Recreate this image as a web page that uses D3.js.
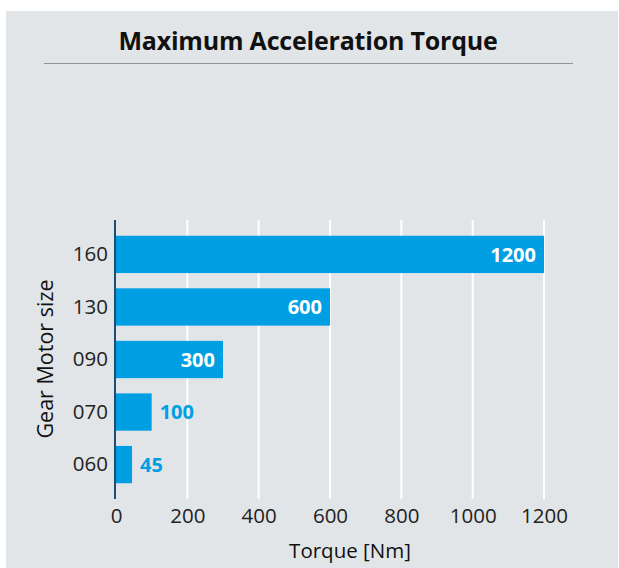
<!DOCTYPE html>
<html>
<head>
<meta charset="utf-8">
<script src="https://cdn.jsdelivr.net/npm/d3@7"></script>
<style>
  body { margin: 0; background: #ffffff; }
  svg { display: block; font-family: "Open Sans", "Noto Sans", sans-serif; }
</style>
</head>
<body>
<div class="chartContainer"></div>
<script>
const sizes = ['160', '130', '090', '070', '060'];
const torques = [1200, 600, 300, 100, 45];
const xTicks = [0, 200, 400, 600, 800, 1000, 1200];
const insideLabel = [true, true, true, false, false];

const W = 619, H = 568;
const margin = { top: 220, left: 116, right: 75, bottom: 69 };
const width = 544 - margin.left,
  height = 499 - margin.top;

const svg = d3.select(".chartContainer")
  .append("svg")
  .attr("width", W)
  .attr("height", H);

// panel
svg.append("rect")
  .attr("x", 6).attr("y", 11)
  .attr("width", 612).attr("height", H - 11)
  .attr("fill", "#e1e5e8");

// title
svg.append("text")
  .attr("x", 308).attr("y", 50)
  .attr("text-anchor", "middle")
  .style("font-size", "25px")
  .style("font-weight", "bold")
  .style("letter-spacing", "-0.2px")
  .attr("fill", "#111")
  .text("Maximum Acceleration Torque");

svg.append("line")
  .attr("x1", 44).attr("x2", 573)
  .attr("y1", 63.5).attr("y2", 63.5)
  .attr("stroke", "#8e9396")
  .attr("stroke-width", 1);

const g = svg.append("g")
  .attr("transform", "translate(" + margin.left + "," + margin.top + ")");

const x = d3.scaleLinear().domain([0, 1200]).range([0, width]);
const y = d3.scaleBand().domain(sizes).range([0, height]).paddingInner(0.29).paddingOuter(0.3);

// gridlines
g.selectAll(".grid")
  .data(xTicks.slice(1))
  .enter()
  .append("line")
  .attr("x1", d => x(d)).attr("x2", d => x(d))
  .attr("y1", 0).attr("y2", height)
  .attr("stroke", "#ffffff")
  .attr("stroke-width", 2);

// x tick labels
const xAxis = d3.axisBottom(x).tickValues(xTicks).tickFormat(d3.format("d")).tickSize(0).tickPadding(9);
const xg = g.append("g")
  .attr("transform", "translate(0," + height + ")")
  .call(xAxis);
xg.select(".domain").remove();
xg.selectAll("text")
  .style("font-size", "20.5px")
  .style("font-family", "'Open Sans', sans-serif")
  .attr("fill", "#222");

// y tick labels
const yAxis = d3.axisLeft(y).tickSize(0).tickPadding(8);
const yg = g.append("g").call(yAxis);
yg.select(".domain").remove();
yg.selectAll("text")
  .style("font-size", "20.5px")
  .style("font-family", "'Open Sans', sans-serif")
  .attr("fill", "#222");

// bars
const data = sizes.map((s, i) => ({ size: s, torque: torques[i], inside: insideLabel[i] }));

g.selectAll(".bar")
  .data(data)
  .enter()
  .append("rect")
  .attr("class", "bar")
  .attr("x", x(0))
  .attr("y", d => y(d.size))
  .attr("width", d => x(d.torque) - x(0))
  .attr("height", y.bandwidth())
  .attr("fill", "#009fe3");

g.selectAll(".lbl")
  .data(data)
  .enter()
  .append("text")
  .attr("x", d => d.inside ? x(d.torque) - 8 : x(d.torque) + 8)
  .attr("y", d => y(d.size) + y.bandwidth() / 2)
  .attr("dy", "0.36em")
  .attr("text-anchor", d => d.inside ? "end" : "start")
  .style("font-size", "20px")
  .style("font-weight", "bold")
  .attr("fill", d => d.inside ? "#ffffff" : "#009fe3")
  .text(d => d.torque);

// y axis line
g.append("line")
  .attr("x1", -1).attr("x2", -1)
  .attr("y1", 0).attr("y2", height)
  .attr("stroke", "#1d4f76")
  .attr("stroke-width", 2);

// axis titles
svg.append("text")
  .attr("x", 350).attr("y", 558)
  .attr("text-anchor", "middle")
  .style("font-size", "20.5px")
  .attr("fill", "#111")
  .text("Torque [Nm]");

svg.append("text")
  .attr("transform", "translate(53,359) rotate(-90)")
  .attr("text-anchor", "middle")
  .style("font-size", "21.5px")
  .attr("fill", "#111")
  .text("Gear Motor size");
</script>
</body>
</html>
